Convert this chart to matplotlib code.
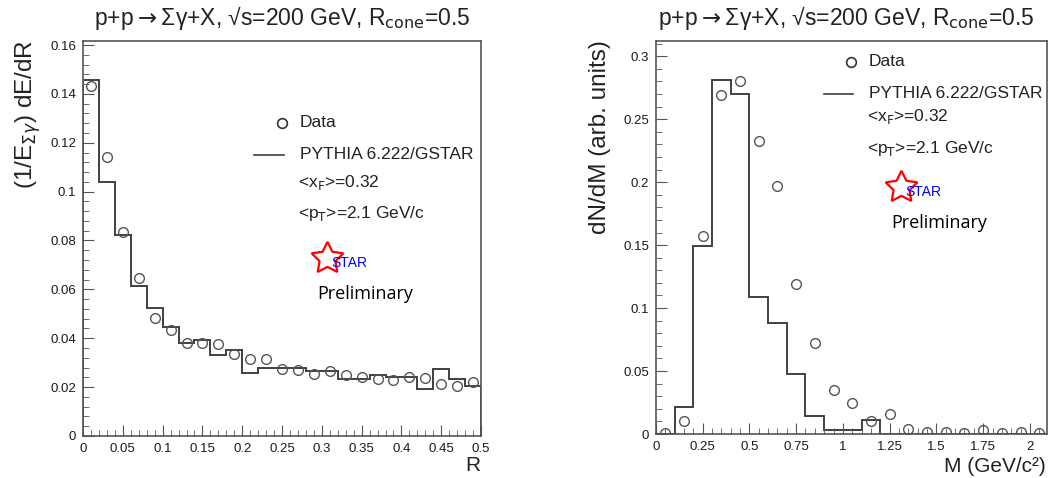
import numpy as np
import matplotlib.pyplot as plt
from matplotlib.ticker import MultipleLocator

plt.rcParams['font.family'] = ['Liberation Sans', 'DejaVu Sans']

# painel esquerdo: perfil em R
r_bordas = np.arange(0, 0.5001, 0.02)
r_pythia = [0.1455, 0.104, 0.0822, 0.0614, 0.0525, 0.0446, 0.038, 0.0393, 0.033, 0.035,
            0.0257, 0.0277, 0.0277, 0.028, 0.0265, 0.0265, 0.0234, 0.0234, 0.025, 0.024,
            0.024, 0.0193, 0.0272, 0.0234, 0.0203]
r_dados = [0.1434, 0.114, 0.0835, 0.0646, 0.0484, 0.0434, 0.038, 0.038, 0.0378, 0.0337,
           0.0313, 0.0313, 0.0275, 0.0269, 0.0254, 0.0266, 0.025, 0.024, 0.0234, 0.0227,
           0.024, 0.0237, 0.0213, 0.0204, 0.022]

# painel direito: massa invariante
m_bordas = np.arange(0, 2.1001, 0.1)
m_pythia = [0.0, 0.0217, 0.149, 0.281, 0.270, 0.1086, 0.0879, 0.048, 0.0143, 0.0034,
            0.0034, 0.011, 0, 0, 0, 0, 0, 0, 0, 0, 0]
m_dados = [0.0005, 0.010, 0.157, 0.2695, 0.2806, 0.233, 0.197, 0.1194, 0.072, 0.035,
           0.025, 0.010, 0.0159, 0.004, 0.0013, 0.0013, 0.001, 0.003, 0.0005, 0.002, 0.0005]

titulo = 'p+p$\\rightarrow$Σγ+X, √s=200 GeV, R$_{\\mathrm{cone}}$=0.5'
cor_linha = '#404040'

fig = plt.figure(figsize=(10.51, 4.78), dpi=100)
ax1 = fig.add_axes([0.079, 0.088, 0.3787, 0.826])
ax2 = fig.add_axes([0.624, 0.092, 0.372, 0.822])


def estilo(ax):
    for s in ax.spines.values():
        s.set_color('#555555')
        s.set_linewidth(1.2)
    ax.tick_params(which='both', direction='in', top=False, right=False,
                   color='#555555', labelsize=9.5, labelcolor='#1a1a1a', pad=5)
    ax.tick_params(which='major', length=8)
    ax.tick_params(which='minor', length=4)


#grafico R
centros_r = (r_bordas[:-1] + r_bordas[1:]) / 2
ax1.stairs(r_pythia, r_bordas, color=cor_linha, lw=1.4)
ax1.plot(centros_r, r_dados, 'o', mfc='none', mec='#555555', ms=7, mew=1.0)
ax1.set_xlim(0, 0.5)
ax1.set_ylim(0, 0.1616)
ax1.xaxis.set_minor_locator(MultipleLocator(0.01))
ax1.yaxis.set_minor_locator(MultipleLocator(0.004))
ax1.set_xticks(np.arange(0, 0.501, 0.05), ['0', '0.05', '0.1', '0.15', '0.2', '0.25', '0.3',
                                          '0.35', '0.4', '0.45', '0.5'])
ax1.set_yticks(np.arange(0, 0.161, 0.02), ['0', '0.02', '0.04', '0.06', '0.08', '0.1',
                                          '0.12', '0.14', '0.16'])
estilo(ax1)

#grafico M
centros_m = (m_bordas[:-1] + m_bordas[1:]) / 2
ax2.stairs(m_pythia, m_bordas, color=cor_linha, lw=1.4)
ax2.plot(centros_m, m_dados, 'o', mfc='none', mec='#555555', ms=7, mew=1.0)
ax2.set_xlim(0, 2.09)
ax2.set_ylim(0, 0.312)
ax2.xaxis.set_minor_locator(MultipleLocator(0.05))
ax2.yaxis.set_minor_locator(MultipleLocator(0.01))
ax2.set_xticks(np.arange(0, 2.01, 0.25), ['0', '0.25', '0.5', '0.75', '1', '1.25', '1.5',
                                         '1.75', '2'])
ax2.set_yticks(np.arange(0, 0.301, 0.05), ['0', '0.05', '0.1', '0.15', '0.2', '0.25', '0.3'])
estilo(ax2)

#titulos e rotulos
fig.text(0.2685, 0.962, titulo, ha='center', va='center', fontsize=16.5, color='#222222')
fig.text(0.805, 0.962, titulo, ha='center', va='center', fontsize=16.5, color='#222222')
fig.text(0.027, 0.916, '(1/E$_{Σγ}$) dE/dR', rotation=90, ha='center', va='top',
         fontsize=17.5, color='#222222')
fig.text(0.571, 0.916, 'dN/dM (arb. units)', rotation=90, ha='center', va='top',
         fontsize=17.5, color='#222222')
fig.text(0.457, 0.026, 'R', ha='right', va='center', fontsize=15, color='#222222')
fig.text(0.995, 0.024, 'M (GeV/c²)', ha='right', va='center', fontsize=15, color='#222222')


def legenda(ax, x0, y0, dy_linha, dy_x, dy_p, xs, ys):
    t = ax.transAxes
    ax.plot([x0 + 0.04], [y0], 'o', mfc='none', mec='#333333', ms=7, mew=1.2, transform=t)
    ax.text(x0 + 0.085, y0, 'Data', transform=t, va='center', fontsize=12.5, color='#222222')
    ax.plot([x0 - 0.03, x0 + 0.045], [y0 - dy_linha] * 2, color=cor_linha, lw=1.2, transform=t)
    ax.text(x0 + 0.085, y0 - dy_linha, 'PYTHIA 6.222/GSTAR', transform=t, va='center',
            fontsize=12.5, color='#222222')
    ax.text(x0 + 0.08, y0 - dy_x, '<x$_{\\mathrm{F}}$>=0.32', transform=t, va='center',
            fontsize=12.5, color='#222222')
    ax.text(x0 + 0.08, y0 - dy_p, '<p$_{\\mathrm{T}}$>=2.1 GeV/c', transform=t, va='center',
            fontsize=12.5, color='#222222')
    ax.plot([xs], [ys], marker=(5, 1, 0), ms=24, mfc='none', mec='red', mew=1.6, transform=t)
    ax.text(xs + 0.01, ys - 0.012, 'STAR', transform=t, va='center', fontsize=10, color='blue')
    ax.text(xs - 0.025, ys - 0.09, 'Preliminary', transform=t, va='center', fontsize=13,
            color='black', family=['Open Sans', 'DejaVu Sans'])


legenda(ax1, 0.46, 0.793, 0.081, 0.15, 0.23, 0.613, 0.45)
legenda(ax2, 0.46, 0.947, 0.081, 0.139, 0.22, 0.627, 0.628)

plt.savefig('out.png', dpi=100)
